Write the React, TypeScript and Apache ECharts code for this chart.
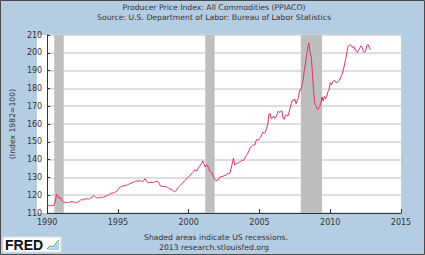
import React, { useEffect, useRef } from "react";
import * as echarts from "echarts";

const years = [1990, 1991, 1992, 1993, 1994, 1995, 1996, 1997, 1998, 1999, 2000, 2001, 2002, 2003, 2004, 2005, 2006, 2007, 2008, 2009, 2010, 2011, 2012];

const ppi1990s = [
  [114.6, 114.4, 114.2, 114.1, 114.3, 114.0, 114.6, 116.8, 120.5, 119.8, 118.2, 118.9],
  [118.0, 116.6, 115.8, 115.9, 116.1, 115.9, 115.8, 116.0, 116.3, 116.4, 116.2, 116.0],
  [115.7, 115.9, 116.1, 116.5, 117.1, 117.6, 117.3, 117.5, 117.8, 118.1, 117.9, 117.8],
  [118.0, 118.5, 118.9, 119.4, 119.5, 118.9, 118.6, 118.4, 118.6, 118.9, 118.8, 118.8],
  [119.0, 119.3, 119.6, 119.8, 120.2, 120.6, 120.9, 121.3, 121.2, 121.5, 121.8, 122.2],
  [123.2, 124.0, 124.6, 124.9, 125.1, 125.3, 125.4, 125.6, 125.8, 126.1, 126.4, 126.7],
  [127.0, 127.2, 127.5, 127.9, 128.0, 127.8, 128.2, 128.0, 127.9, 127.7, 128.3, 129.3],
  [128.4, 127.1, 127.0, 127.2, 127.3, 127.0, 127.1, 127.4, 127.6, 127.9, 127.5, 126.6],
  [125.2, 125.0, 124.9, 124.8, 124.9, 124.6, 124.4, 123.9, 123.5, 123.4, 122.9, 122.3],
  [121.9, 122.3, 123.2, 124.3, 125.0, 125.6, 126.3, 127.0, 127.6, 128.4, 129.2, 129.9],
];

const ppi2000s = [
  [130.3, 131.0, 131.9, 132.4, 133.0, 134.3, 133.8, 133.7, 135.2, 136.0, 136.9, 138.0],
  [139.3, 137.3, 135.8, 137.0, 136.6, 134.9, 133.6, 132.8, 132.5, 130.4, 129.0, 128.1],
  [128.4, 128.6, 129.7, 130.5, 130.4, 130.6, 131.0, 131.1, 131.4, 132.3, 132.0, 132.4],
  [135.0, 138.0, 140.9, 136.9, 137.5, 138.1, 138.0, 138.6, 138.9, 139.6, 139.5, 139.9],
  [141.5, 142.4, 143.4, 144.8, 146.6, 147.0, 147.6, 148.4, 148.2, 150.4, 151.5, 150.9],
  [151.8, 152.5, 154.2, 155.5, 155.0, 155.4, 157.6, 159.5, 165.5, 166.0, 162.8, 163.4],
  [164.5, 163.2, 163.8, 165.7, 167.3, 166.4, 167.0, 167.4, 163.2, 162.6, 164.9, 165.1],
  [164.3, 166.4, 169.1, 171.5, 173.4, 173.1, 174.0, 171.4, 173.1, 174.9, 179.0, 178.9],
  [182.1, 184.3, 190.2, 193.7, 198.9, 203.4, 205.5, 199.4, 197.4, 187.6, 177.6, 171.3],
  [170.4, 168.2, 168.5, 169.8, 171.7, 175.2, 172.9, 175.6, 174.1, 175.4, 178.1, 179.1],
];

const ppi2010s = [
  [183.2, 181.9, 183.6, 184.5, 184.2, 183.2, 183.4, 184.2, 184.6, 186.5, 187.8, 189.9],
  [193.1, 196.1, 199.8, 203.5, 204.3, 204.5, 204.0, 202.9, 203.6, 201.6, 201.3, 200.2],
  [201.4, 202.6, 203.9, 203.3, 201.3, 200.1, 200.9, 203.9, 204.7, 203.3, 201.6],
];

const recessions = [
  [1990.5, 1991.17],
  [2001.17, 2001.83],
  [2007.92, 2009.42],
];

const xTicks = [1990, 1995, 2000, 2005, 2010, 2015];
const yTicks = [110, 120, 130, 140, 150, 160, 170, 180, 190, 200, 210];

const titleText = "Producer Price Index: All Commodities (PPIACO)";
const sourceText = "Source: U.S. Department of Labor: Bureau of Labor Statistics";
const noteText = "Shaded areas indicate US recessions.";
const creditText = "2013 research.stlouisfed.org";
const yName = "(Index 1982=100)";

export default function App() {
  const ref = useRef<HTMLDivElement>(null);
  useEffect(() => {
    if (!ref.current) return;
    const chart = echarts.init(ref.current, undefined, { renderer: "svg" });
    const rows = [...ppi1990s, ...ppi2000s, ...ppi2010s];
    const data: number[][] = [];
    rows.forEach((row, i) => {
      row.forEach((v, m) => data.push([years[i] + m / 12, v]));
    });
    const font = "DejaVu Sans";
    const txt = "#333333";
    chart.setOption({
      animation: false,
      backgroundColor: "#B5CDE3",
      grid: { left: 37, right: 24, top: 35, bottom: 42 },
      xAxis: {
        type: "value",
        min: xTicks[0],
        max: xTicks[xTicks.length - 1],
        interval: 5,
        axisLine: { show: true, lineStyle: { color: "#333", width: 1 } },
        axisTick: { show: true, inside: true, length: 4, lineStyle: { color: "#333" } },
        axisLabel: { color: txt, fontFamily: font, fontSize: 8, margin: 5, formatter: (v: number) => String(v) },
        splitLine: { show: false },
      },
      yAxis: {
        type: "value",
        min: yTicks[0],
        max: yTicks[yTicks.length - 1],
        interval: 10,
        name: yName,
        nameLocation: "middle",
        nameGap: 23,
        nameTextStyle: { color: txt, fontFamily: font, fontSize: 7.7 },
        axisLine: { show: true, lineStyle: { color: "#333", width: 1 } },
        axisTick: { show: true, inside: true, length: 3, lineStyle: { color: "#333" } },
        axisLabel: { color: txt, fontFamily: font, fontSize: 8, margin: 5 },
        splitLine: { show: true, lineStyle: { color: "#D4D4D4", width: 1.5 } },
      },
      graphic: [
        { type: "rect", shape: { x: 37, y: 35, width: 364, height: 178 }, style: { fill: "#FFFFFF" }, z: -10, silent: true },
        { type: "rect", shape: { x: 0.5, y: 0.5, width: 424, height: 254 }, style: { fill: "none", stroke: "#4A4A4A", lineWidth: 1 }, z: 100, silent: true },
        { type: "text", x: 214, y: 3, style: { text: titleText, font: `7.7px ${font}`, fill: txt, textAlign: "center" } },
        { type: "text", x: 214, y: 13, style: { text: sourceText, font: `7.7px ${font}`, fill: txt, textAlign: "center" } },
        { type: "text", x: 216, y: 233, style: { text: noteText, font: `7.7px ${font}`, fill: txt, textAlign: "center" } },
        { type: "text", x: 214, y: 243, style: { text: creditText, font: `7.7px ${font}`, fill: txt, textAlign: "center" } },
        { type: "rect", shape: { x: 3, y: 237, width: 58, height: 15 }, style: { fill: "#FFFFFF", stroke: "#DDDDDD" } },
        { type: "text", x: 5, y: 238, style: { text: "FRED", font: `bold 14px "Liberation Sans"`, fill: "#111111" } },
        { type: "polygon", shape: { points: [[47, 250], [50, 247], [53, 248], [56, 244], [59, 241], [59, 250]] }, style: { fill: "#A9D4EE" } },
        { type: "polyline", shape: { points: [[47, 249], [50, 246], [53, 247], [56, 243], [59, 240]] }, style: { stroke: "#5BAA4A", lineWidth: 1, fill: "none" } },
      ],
      series: [
        {
          type: "line",
          data,
          showSymbol: false,
          symbol: "none",
          lineStyle: { color: "#E0306A", width: 1 },
          z: 5,
          markArea: {
            silent: true,
            itemStyle: { color: "#BEBEBE", opacity: 1 },
            data: recessions.map(([a, b]) => [{ xAxis: a }, { xAxis: b }]),
          },
        },
      ],
    });
    return () => chart.dispose();
  }, []);
  return <div ref={ref} style={{ position: "fixed", left: 0, top: 0, width: 425, height: 255 }} />;
}
